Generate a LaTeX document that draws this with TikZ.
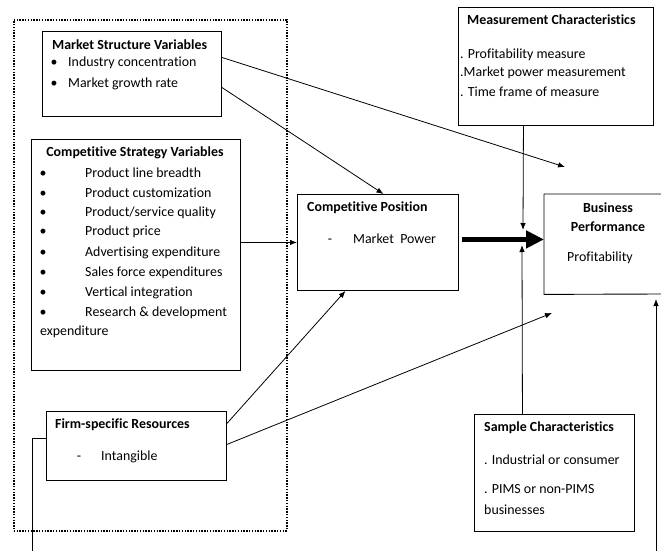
\documentclass[tikz,border=0pt]{standalone}
\usepackage{fontspec}
\setmainfont{Carlito}[Ligatures=NoCommon]
\usetikzlibrary{arrows.meta}
\begin{document}
\begin{tikzpicture}[x=1pt,y=-1pt,
  box/.style={draw, line width=0.9pt, inner sep=0pt, anchor=north west},
  dotbox/.style={draw, line width=1.6pt, dash pattern=on 1.4pt off 1.4pt, inner sep=0pt, anchor=north west},
  txt/.style={anchor=west, inner sep=0pt, font=\fontsize{13.9}{16}\selectfont},
  bulmark/.style={anchor=base, inner sep=0pt, font=\fontsize{13.9}{16}\selectfont},
  ttl/.style={anchor=west, inner sep=0pt, font=\fontsize{13.9}{16}\selectfont\bfseries},
  cttl/.style={anchor=center, inner sep=0pt, font=\fontsize{13.9}{16}\selectfont\bfseries},
  conn/.style={line width=0.8pt, -{Latex[length=7pt,width=5.5pt]}},
  plain/.style={line width=0.8pt},
  thick arrow/.style={line width=5pt, -{Triangle[length=18pt,width=17pt]}}]
\useasboundingbox (0,0) rectangle (661,551);

% group
\node[dotbox, minimum width=273pt, minimum height=511pt] (grp) at (13,19) {};

% boxes
\node[box, minimum width=179pt, minimum height=85pt] (ms) at (42,31) {};
\node[box, minimum width=209pt, minimum height=231pt] (cs) at (31,139) {};
\node[box, minimum width=161pt, minimum height=96pt] (cp) at (297,194) {};
\node[inner sep=0pt, anchor=north west, minimum width=126pt, minimum height=100pt] (bp) at (544,194) {};
\draw[line width=0.9pt] (661,194) -- (bp.north west) -- (bp.south west) -- (661,294);
\node[box, minimum width=195pt, minimum height=118pt] (mc) at (458,7) {};
\node[box, minimum width=160pt, minimum height=117pt] (sc) at (474,414) {};
\node[box, minimum width=180pt, minimum height=69pt] (fr) at (46,411) {};

% Market structure text
\node[ttl] (mst) at (52,45) {Market Structure Variables};
\node[txt] (ms1) at (68,63) {Industry concentration};
\node[bulmark] (msb1) at ([xshift=-14pt]ms1.base west) {•};
\node[txt] (ms2) at (68,84) {Market growth rate};
\node[bulmark] (msb2) at ([xshift=-14pt]ms2.base west) {•};

% Competitive strategy text
\node[cttl] (cst) at (135,153) {Competitive Strategy Variables};
\foreach \yy/\tt [count=\i] in {173/{Product line breadth},193/{Product customization},213/{Product/service quality},232/{Product price},253/{Advertising expenditure},273/{Sales force expenditures},293/{Vertical integration},313/{Research \& development}}{
  \node[txt] (cs\i) at (85,\yy) {\tt};
  \node[bulmark] (csb\i) at ([xshift=-42pt]cs\i.base west) {•};
}
\node[txt] (cs9) at (40,332) {expenditure};

% Competitive position
\node[ttl] (cpt) at (307,208) {Competitive Position};
\node[txt] (cp1) at (353,239) {Market\ \ Power};
\node[bulmark] (cpd) at ([xshift=-23pt]cp1.base west) {-};

% Business performance
\node[cttl] (bpt1) at (608,208) {Business};
\node[cttl] (bpt2) at (608,227) {Performance};
\node[txt] (bp1) at (567,258) {Profitability};

% Measurement characteristics
\node[ttl] (mct) at (467,20) {Measurement Characteristics};
\node[txt] (mc1) at (460,55) {. Profitability measure};
\node[txt] (mc2) at (460,73) {.Market power measurement};
\node[txt] (mc3) at (460,92) {. Time frame of measure};

% Sample characteristics
\node[ttl] (sct) at (484,428) {Sample Characteristics};
\node[txt] (sc1) at (484,460) {. Industrial or consumer};
\node[txt] (sc2) at (484,489) {. PIMS or non-PIMS};
\node[txt] (sc3) at (484,510) {businesses};

% Firm-specific resources
\node[ttl] (frt) at (55,425) {Firm-specific Resources};
\node[txt] (fr1) at (101,457) {Intangible};
\node[bulmark] (frd) at ([xshift=-22pt]fr1.base west) {-};

% free ends
\coordinate (e1) at (565,167);
\coordinate (e5) at (523,230);
\coordinate (e6) at (522,245);
\coordinate (e8) at (552,313);
\coordinate (fb) at (32,551);
\coordinate (r0) at (656,551);
\coordinate (r1) at (656,299);

% connectors
\draw[conn] ([yshift=16.5pt]ms.east) -- (e1);
\draw[conn] ([yshift=-13.5pt]ms.east) -- ([xshift=5.5pt]cp.north);
\draw[conn] (cs.east |- cp.west) -- (cp.west);
\draw[thick arrow] ([xshift=3pt,yshift=3pt]cp.east) -- ([yshift=3pt]cp.east -| bp.west);
\draw[conn] ([xshift=-32.5pt]mc.south) -- (e5);
\draw[conn] ([xshift=-32pt]sc.north) -- (e6);
\draw[conn] ([yshift=22.5pt]fr.east) -- ([xshift=-32.5pt]cp.south);
\draw[conn] ([yshift=1.5pt]fr.east) -- (e8);
\draw[plain] ([yshift=7.5pt]fr.west) -| (fb);
\draw[conn] (r0) -- (r1);
\end{tikzpicture}
\end{document}
